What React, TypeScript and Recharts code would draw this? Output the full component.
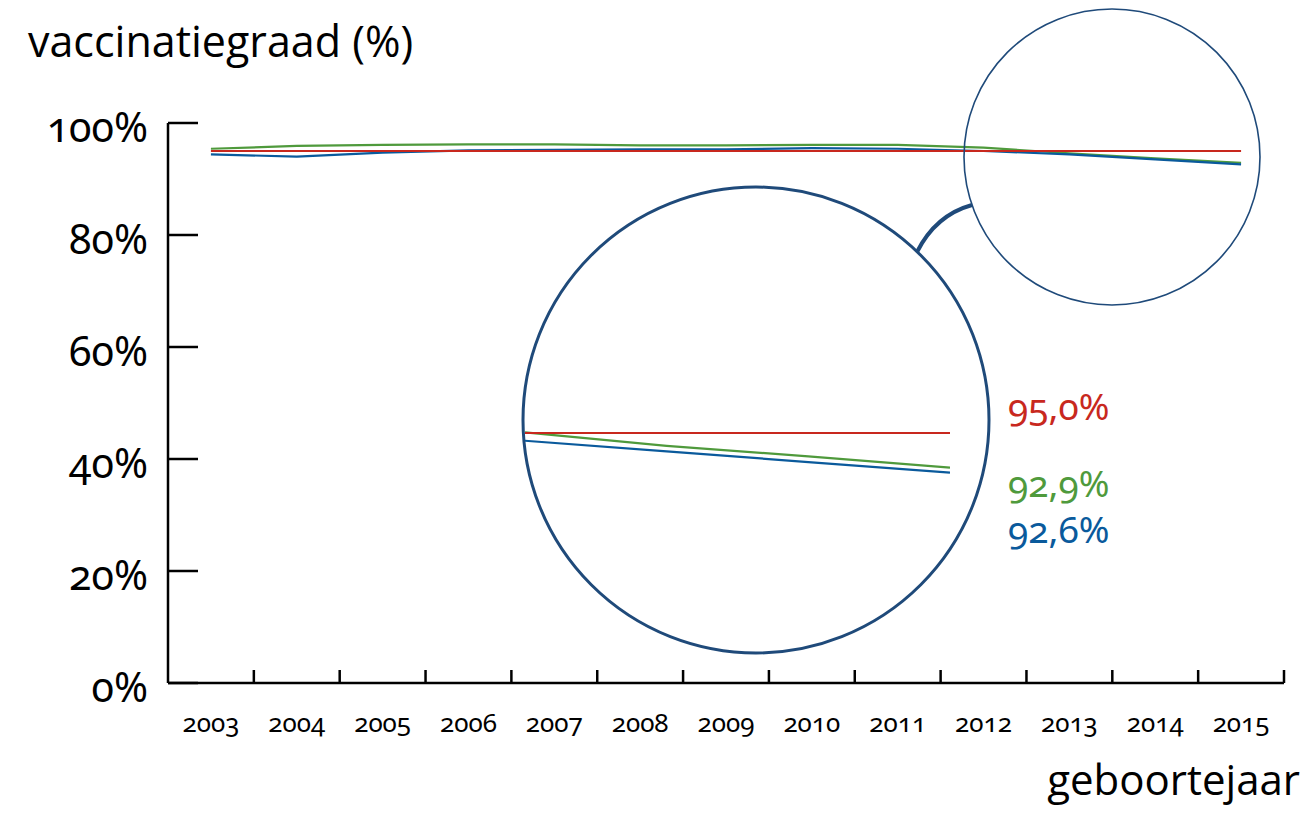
import { LineChart, Line, XAxis, YAxis } from "recharts";

// geboortejaar
const years = ["2003", "2004", "2005", "2006", "2007", "2008", "2009", "2010", "2011", "2012", "2013", "2014", "2015"];
// vaccinatiegraad per cohort (%)
const target = [95.0, 95.0, 95.0, 95.0, 95.0, 95.0, 95.0, 95.0, 95.0, 95.0, 95.0, 95.0, 95.0];
const greenSeries = [95.4, 95.9, 96.1, 96.2, 96.2, 96.0, 96.0, 96.1, 96.1, 95.6, 94.6, 93.7, 92.9];
const blueSeries = [94.4, 94.0, 94.7, 95.1, 95.2, 95.3, 95.3, 95.5, 95.4, 95.0, 94.4, 93.5, 92.6];
const yTicks = [0, 20, 40, 60, 80, 100];

// uitvergroting (loep) van de laatste jaren
const zoomYears = ["2012", "2013", "2014", "2015"];
const zoomTarget = [95.0, 95.0, 95.0, 95.0];
const zoomGreen = [95.04, 94.22, 93.58, 92.9];
const zoomBlue = [94.53, 93.89, 93.24, 92.6];

const endLabels = ["95,0%", "92,9%", "92,6%"];

const RED = "#c8281e";
const GREEN = "#4f9a3c";
const BLUE = "#0a5a9c";
const NAVY = "#1f4a7a";

const W = 1307;
const H = 816;
const PLOT_LEFT = 168;
const PLOT_RIGHT = 1284;
const PLOT_TOP = 123;
const PLOT_BOTTOM = 683;
const BAND = (PLOT_RIGHT - PLOT_LEFT) / years.length;

const data = years.map((y, i) => ({
  year: y,
  target: target[i],
  green: greenSeries[i],
  blue: blueSeries[i],
}));

const zoomData = zoomYears.map((y, i) => ({
  year: y,
  target: zoomTarget[i],
  green: zoomGreen[i],
  blue: zoomBlue[i],
}));

const numFont = "'Noto Sans', sans-serif";
const textFont = "'Open Sans', sans-serif";

function YTick(props: any) {
  const { y, payload } = props;
  return (
    <g>
      <line x1={PLOT_LEFT} x2={PLOT_LEFT + 30} y1={y} y2={y} stroke="#000" strokeWidth={2.5} />
      <text
        x={148}
        y={y + 19}
        textAnchor="end"
        fontSize={41}
        fontFamily={numFont}
        fill="#000"
        style={{ fontVariantNumeric: "oldstyle-nums" }}
      >
        {payload.value}%
      </text>
    </g>
  );
}

function XTick(props: any) {
  const { x, payload } = props;
  const edge = x + BAND / 2;
  return (
    <g>
      <line x1={edge} x2={edge} y1={PLOT_BOTTOM} y2={PLOT_BOTTOM - 13} stroke="#000" strokeWidth={2.5} />
      <text
        x={x}
        y={732}
        textAnchor="middle"
        fontSize={26}
        fontFamily={numFont}
        fill="#000"
        style={{ fontVariantNumeric: "oldstyle-nums" }}
      >
        {payload.value}
      </text>
    </g>
  );
}

export default function App() {
  return (
    <div style={{ position: "absolute", left: 0, top: 0, width: W, height: H, background: "#fff" }}>
      <LineChart
        width={W}
        height={H}
        data={data}
        margin={{ top: PLOT_TOP, right: W - PLOT_RIGHT, bottom: 73, left: 8 }}
      >
        <XAxis
          dataKey="year"
          scale="point"
          padding={{ left: BAND / 2, right: BAND / 2 }}
          height={60}
          tickLine={false}
          axisLine={{ stroke: "#000", strokeWidth: 2.5 }}
          tick={<XTick />}
          interval={0}
        />
        <YAxis
          width={160}
          domain={[0, 100]}
          ticks={yTicks}
          tickLine={false}
          axisLine={{ stroke: "#000", strokeWidth: 2.5 }}
          tick={<YTick />}
        />
        <Line dataKey="green" stroke={GREEN} strokeWidth={2.2} dot={false} isAnimationActive={false} />
        <Line dataKey="blue" stroke={BLUE} strokeWidth={2.2} dot={false} isAnimationActive={false} />
        <Line dataKey="target" stroke={RED} strokeWidth={2.2} dot={false} isAnimationActive={false} />
      </LineChart>

      <svg width={W} height={H} style={{ position: "absolute", left: 0, top: 0, pointerEvents: "none" }}>
        <text x={28} y={57} fontSize={43} fontFamily={textFont} fill="#000">
          vaccinatiegraad (%)
        </text>
        <text x={1300} y={795} textAnchor="end" fontSize={42} fontFamily={textFont} fill="#000">
          geboortejaar
        </text>
        <circle cx={1112} cy={157} r={148} fill="none" stroke={NAVY} strokeWidth={1.6} />
        <circle cx={756} cy={420} r={233} fill="none" stroke={NAVY} strokeWidth={3} />
        <path d="M 917 252 Q 935.7 215 972 205" fill="none" stroke={NAVY} strokeWidth={4} />
        {endLabels.map((t, i) => (
          <text
            key={t}
            x={1008}
            y={[420, 497, 543][i]}
            fontSize={37}
            fontFamily={numFont}
            fill={[RED, GREEN, BLUE][i]}
            style={{ fontVariantNumeric: "oldstyle-nums" }}
          >
            {t}
          </text>
        ))}
      </svg>

      <div style={{ position: "absolute", left: 525, top: 400 }}>
        <LineChart width={425} height={99} data={zoomData} margin={{ top: 0, right: 0, bottom: 0, left: 0 }}>
          <XAxis dataKey="year" hide scale="point" padding={{ left: 0, right: 0 }} />
          <YAxis hide domain={[91, 97]} />
          <Line dataKey="green" stroke={GREEN} strokeWidth={2.2} dot={false} isAnimationActive={false} />
          <Line dataKey="blue" stroke={BLUE} strokeWidth={2.2} dot={false} isAnimationActive={false} />
          <Line dataKey="target" stroke={RED} strokeWidth={2.2} dot={false} isAnimationActive={false} />
        </LineChart>
      </div>
    </div>
  );
}
